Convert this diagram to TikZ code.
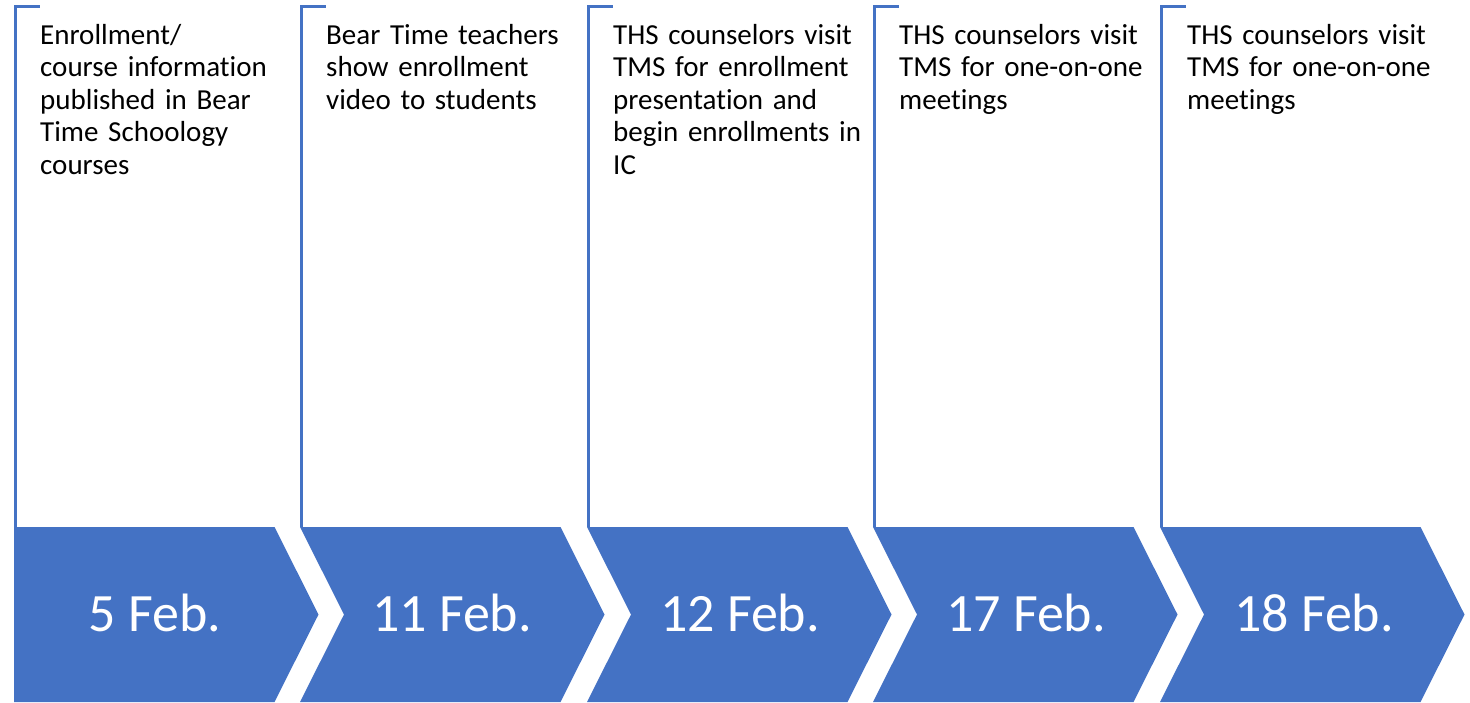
\documentclass[tikz,border=0pt]{standalone}
\usepackage{fontspec}
\setmainfont{Carlito}[Ligatures={NoCommon}]
\definecolor{officeblue}{HTML}{4472C4}
\tikzset{
  chev/.style={fill=officeblue, draw=none},
  bracket/.style={draw=officeblue, line width=3pt},
  toptext/.style={anchor=base west, inner sep=0pt, text width=270pt, align=left,
    font=\fontsize{29}{32.5}\selectfont, text=black},
  datetext/.style={anchor=base, inner sep=0pt, font=\fontsize{54}{60}\selectfont, text=white}
}
\begin{document}
\begin{tikzpicture}[x=1pt,y=-1pt]
\useasboundingbox (0,0) rectangle (1470,702);
% chevrons
\path[chev] (14,527) -- (274.5,527) -- (318.5,614.5) -- (274.5,702) -- (14,702) -- cycle;
\foreach \L in {300,587,873,1160}{
  \path[chev] (\L,527) -- (\L+260.5,527) -- (\L+304.5,614.5) -- (\L+260.5,702) -- (\L,702) -- (\L+44,614.5) -- cycle;
}
% brackets
\foreach \L in {14,300,587,873,1160}{
  \draw[bracket] (\L+1.5,527) -- (\L+1.5,6) -- (\L+26,6);
}
% dates
\node[datetext] (d1) at (155,631) {5 Feb.};
\node[datetext] (d2) at (452,631) {11 Feb.};
\node[datetext] (d3) at (740,631) {12 Feb.};
\node[datetext] (d4) at (1026,631) {17 Feb.};
\node[datetext] (d5) at (1314,631) {18 Feb.};
% texts
\node[toptext] (t1) at (40,44) {Enrollment/\\course information\\published in Bear\\Time Schoology\\courses};
\node[toptext] (t2) at (326,44) {Bear Time teachers\\show enrollment\\video to students};
\node[toptext] (t3) at (613,44) {THS counselors visit\\TMS for enrollment\\presentation and\\begin enrollments in\\IC};
\node[toptext] (t4) at (899,44) {THS counselors visit\\TMS for one-on-one\\meetings};
\node[toptext] (t5) at (1187,44) {THS counselors visit\\TMS for one-on-one\\meetings};
\end{tikzpicture}
\end{document}
